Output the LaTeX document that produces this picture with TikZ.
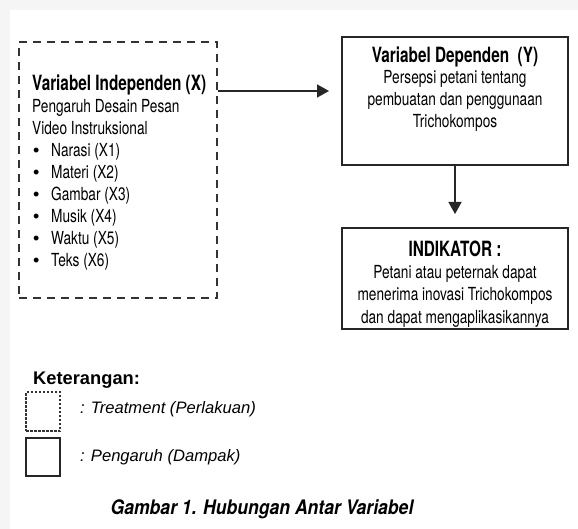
\documentclass[tikz,border=0pt]{standalone}
\usepackage{fontspec}
\setmainfont{Liberation Sans}
\newfontfamily\condfont[FakeStretch=0.76]{TeX Gyre Heros}
\newfontfamily\condtitle[FakeStretch=0.73]{TeX Gyre Heros}
\newfontfamily\condwide[FakeStretch=0.88]{TeX Gyre Heros}
\usetikzlibrary{arrows.meta}

\tikzset{
  dashbox/.style={draw=black!80, line width=1.6pt, dash pattern=on 8pt off 6pt, inner sep=0pt},
  solidbox/.style={draw=black!85, line width=2pt, inner sep=0pt},
  boxtext/.style={font=\condfont\fontsize{18}{22}\selectfont, inner sep=0pt},
  boxtitle/.style={font=\condtitle\bfseries\fontsize{21}{22}\selectfont, inner sep=0pt},
  legtext/.style={font=\itshape\fontsize{16.6}{18}\selectfont, anchor=base west, inner sep=0pt},
  arr/.style={line width=1.5pt, draw=black!85, -{Triangle[length=12pt,width=13pt]}}
}

\begin{document}
\begin{tikzpicture}[x=1pt,y=-1pt]
        \useasboundingbox (0,0) rectangle (578,529);
        \fill[black!4] (0,0) rectangle (578,529);
        \fill[white] (10,10) rectangle (578,529);

        % boxes
        \node[dashbox, minimum width=198pt, minimum height=256pt] (indep) at (118,170) {};
        \node[solidbox, minimum width=226pt, minimum height=128pt] (dep) at (455,101) {};
        \node[solidbox, minimum width=226pt, minimum height=101pt] (ind) at (455,278.5) {};

        % left box
        \node[boxtitle, anchor=base west] (tx) at (32,91) {Variabel Independen (X)};
        \node[boxtext, anchor=base west] (tx1) at (32,113) {Pengaruh Desain Pesan};
        \node[boxtext, anchor=base west] (tx2) at (32,135) {Video Instruksional};
        \foreach \t [count=\i] in {Narasi (X1), Materi (X2), Gambar (X3), Musik (X4), Waktu (X5), Teks (X6)} {
          \node[font=\fontsize{18}{22}\selectfont, anchor=base west, inner sep=0pt] (bul\i) at (33,135+22*\i) {•};
          \node[boxtext, anchor=base west] (item\i) at (51,135+22*\i) {\t};
        }

        % right boxes
        \node[boxtitle, anchor=base] (ty) at (455,62.5) {Variabel Dependen~~(Y)};
        \node[boxtext, anchor=base] (ty1) at (455,84) {Persepsi petani tentang};
        \node[boxtext, anchor=base] (ty2) at (455,106) {pembuatan dan penggunaan};
        \node[boxtext, anchor=base] (ty3) at (455,128) {Trichokompos};

        \node[boxtitle, anchor=base] (ti) at (455,256.5) {INDIKATOR :};
        \node[boxtext, anchor=base] (ti1) at (455,279) {Petani atau peternak dapat};
        \node[boxtext, anchor=base] (ti2) at (455,301) {menerima inovasi Trichokompos};
        \node[boxtext, anchor=base] (ti3) at (455,323) {dan dapat mengaplikasikannya};

        % arrows
        \coordinate (a1) at (217,91);
        \draw[arr, shorten >=12pt] (indep.east |- a1) -- (dep.west |- a1);
        \draw[arr, shorten >=13pt] (dep.south) -- (ind.north);

        % legend
        \node[font=\bfseries\fontsize{18.3}{19}\selectfont, anchor=base west, inner sep=0pt] (ket) at (33,384) {Keterangan:};
        \node[draw=black!80, line width=1.3pt, dash pattern=on 2.5pt off 1.5pt, minimum width=34pt, minimum height=39pt, inner sep=0pt] (legd) at (43,411.5) {};
        \node[draw=black!85, line width=1.5pt, minimum width=34pt, minimum height=38pt, inner sep=0pt] (legs) at (43,457) {};
        \node[legtext] (ld) at (80,413) {: Treatment (Perlakuan)};
        \node[legtext] (ls) at (80,461) {: Pengaruh (Dampak)};

        % caption
        \node[font=\condwide\bfseries\itshape\fontsize{20}{22}\selectfont, inner sep=0pt, anchor=base] (cap) at (262,514) {Gambar 1. Hubungan Antar Variabel};
    \end{tikzpicture}
\end{document}
